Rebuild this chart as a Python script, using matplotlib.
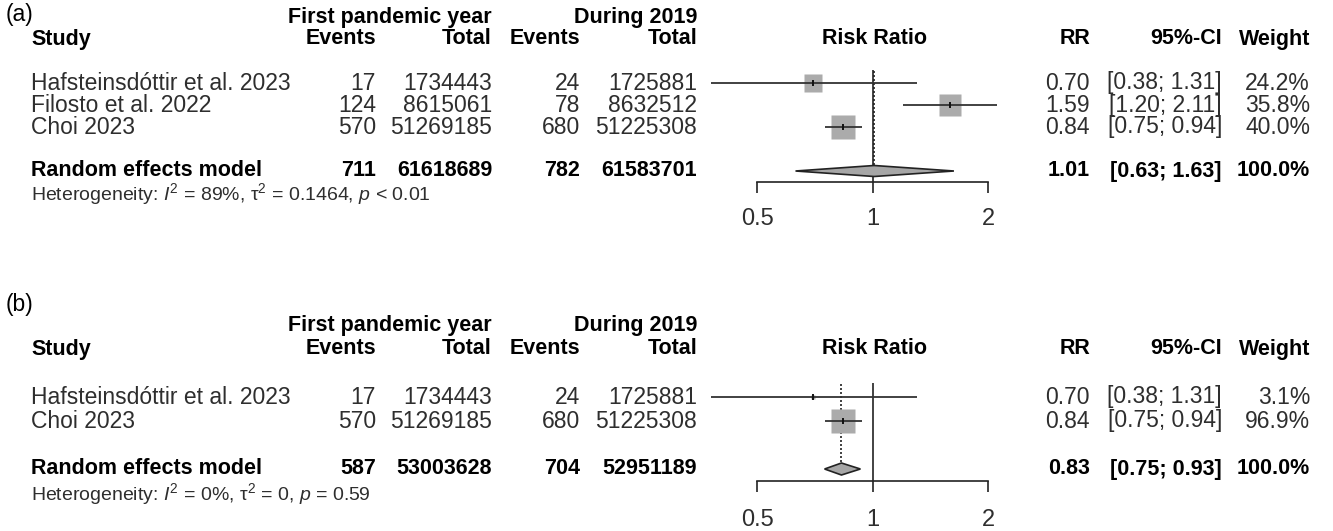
import numpy as np
import matplotlib
matplotlib.use("Agg")
import matplotlib.pyplot as plt
from matplotlib.ticker import NullLocator, FixedLocator, FixedFormatter
from matplotlib.patches import Polygon

plt.rcParams["font.family"] = ["Liberation Sans", "DejaVu Sans"]
plt.rcParams["mathtext.fontset"] = "custom"
plt.rcParams["mathtext.rm"] = "Liberation Sans"
plt.rcParams["mathtext.it"] = "Liberation Sans:italic"
plt.rcParams["mathtext.bf"] = "Liberation Sans:bold"

# ---------------- data ----------------
# Panel (a): all three studies
studies_a = ["Hafsteinsdóttir et al. 2023", "Filosto et al. 2022", "Choi 2023"]
events_pandemic_a = [17, 124, 570]
total_pandemic_a = [1734443, 8615061, 51269185]
events_2019_a = [24, 78, 680]
total_2019_a = [1725881, 8632512, 51225308]
rr_a = [0.70, 1.59, 0.84]
ci_low_a = [0.38, 1.20, 0.75]
ci_high_a = [1.31, 2.11, 0.94]
weight_a = [24.2, 35.8, 40.0]
pooled_counts_a = [711, 61618689, 782, 61583701]
pooled_rr_a = [1.01, 0.63, 1.63]
het_a = r"Heterogeneity: $I^2$ = 89%, $\mathrm{\tau}^2$ = 0.1464, $p$ < 0.01"

# Panel (b): without Filosto et al.
studies_b = ["Hafsteinsdóttir et al. 2023", "Choi 2023"]
events_pandemic_b = [17, 570]
total_pandemic_b = [1734443, 51269185]
events_2019_b = [24, 680]
total_2019_b = [1725881, 51225308]
rr_b = [0.70, 0.84]
ci_low_b = [0.38, 0.75]
ci_high_b = [1.31, 0.94]
weight_b = [3.1, 96.9]
pooled_counts_b = [587, 53003628, 704, 52951189]
pooled_rr_b = [0.83, 0.75, 0.93]
het_b = r"Heterogeneity: $I^2$ = 0%, $\mathrm{\tau}^2$ = 0, $p$ = 0.59"

tick_values = [0.5, 1, 2]
tick_labels = ["0.5", "1", "2"]

# ---------------- layout ----------------
W, H = 1333, 531
fig = plt.figure(figsize=(W / 100, H / 100), dpi=100)
fig.patch.set_facecolor("white")

FS = 16.5        # regular table text
FS_B = 15.5      # bold headers and pooled row
FS_HET = 14
FS_TICK = 17
TXT = "#2e2e2e"
SQ = "#ababab"
LINE = "#333333"

X_STUDY = 31
X_EV1, X_TOT1, X_EV2, X_TOT2 = 376, 492, 580, 697
X_RR, X_CI, X_W = 1090, 1222, 1310
X_AX0, X_AX1 = 757, 988


def fx(x):
    return x / W


def fy(y):
    return 1 - y / H


def put(x, y, s, ha="left", bold=False, size=None, color=None):
    if size is None:
        size = FS_B if bold else FS
    fig.text(fx(x), fy(y), s, ha=ha, va="center", fontsize=size,
             fontweight="bold" if bold else "normal",
             color=color if color else ("black" if bold else TXT))


def panel(tag, y_tag, y_h1, y0, d, studies, ev1, tot1, ev2, tot2,
          rr, lo, hi, wt, pooled_counts, pooled, het):
    n = len(studies)
    row_y = lambda r: y0 + r * d
    # headers
    put(6, y_tag, tag, size=FS, color="black")
    put(X_TOT1, y_h1, "First pandemic year", ha="right", bold=True)
    put(X_TOT2, y_h1, "During 2019", ha="right", bold=True)
    yh = row_y(-2)
    put(X_STUDY, yh, "Study", bold=True)
    put(X_EV1, yh, "Events", ha="right", bold=True)
    put(X_TOT1, yh, "Total", ha="right", bold=True)
    put(X_EV2, yh, "Events", ha="right", bold=True)
    put(X_TOT2, yh, "Total", ha="right", bold=True)
    put((X_AX0 + X_AX1) / 2 + 2, yh, "Risk Ratio", ha="center", bold=True)
    put(X_RR, yh, "RR", ha="right", bold=True)
    put(X_CI, yh, "95%-CI", ha="right", bold=True)
    put(X_W, yh, "Weight", ha="right", bold=True)
    # study rows
    for i in range(n):
        y = row_y(i)
        put(X_STUDY, y, studies[i])
        put(X_EV1, y, f"{ev1[i]}", ha="right")
        put(X_TOT1, y, f"{tot1[i]}", ha="right")
        put(X_EV2, y, f"{ev2[i]}", ha="right")
        put(X_TOT2, y, f"{tot2[i]}", ha="right")
        put(X_RR, y, f"{rr[i]:.2f}", ha="right")
        put(X_CI, y, f"[{lo[i]:.2f}; {hi[i]:.2f}]", ha="right")
        put(X_W, y, f"{wt[i]:.1f}%", ha="right")
    # pooled row
    yp = row_y(n + 1)
    put(X_STUDY, yp, "Random effects model", bold=True)
    put(X_EV1, yp, f"{pooled_counts[0]}", ha="right", bold=True)
    put(X_TOT1, yp, f"{pooled_counts[1]}", ha="right", bold=True)
    put(X_EV2, yp, f"{pooled_counts[2]}", ha="right", bold=True)
    put(X_TOT2, yp, f"{pooled_counts[3]}", ha="right", bold=True)
    put(X_RR, yp, f"{pooled[0]:.2f}", ha="right", bold=True)
    put(X_CI, yp, f"[{pooled[1]:.2f}; {pooled[2]:.2f}]", ha="right", bold=True)
    put(X_W, yp, "100.0%", ha="right", bold=True)
    put(X_STUDY, row_y(n + 2) + 1, het, size=FS_HET)

    # forest axes: x is the risk ratio on a log scale, y is the row index
    top_r, bot_r = -1.0, n + 4.5
    ax = fig.add_axes([fx(X_AX0), fy(row_y(bot_r)), (X_AX1 - X_AX0) / W,
                       (bot_r - top_r) * d / H])
    ax.set_xscale("log", base=2)
    ax.set_xlim(tick_values[0], tick_values[-1])
    ax.set_ylim(bot_r, top_r)
    ax.patch.set_alpha(0)
    for s in ("top", "left", "right"):
        ax.spines[s].set_visible(False)
    ax.spines["bottom"].set_position(("data", n + 1.5))
    ax.spines["bottom"].set_linewidth(1.2)
    ax.spines["bottom"].set_color("#222222")
    ax.yaxis.set_visible(False)
    ax.xaxis.set_major_locator(FixedLocator(tick_values))
    ax.xaxis.set_major_formatter(FixedFormatter(tick_labels))
    ax.xaxis.set_minor_locator(NullLocator())
    ax.tick_params(axis="x", direction="out", length=8, width=1.2,
                   color="#222222", labelsize=FS_TICK, labelcolor=TXT,
                   pad=0.5 * d)

    # reference line at no effect and dotted line at the pooled estimate
    ax.plot([1, 1], [-0.6, n + 1.5], color="#222222", lw=1.2,
            solid_capstyle="butt", zorder=2)
    dh = 0.25
    ax.plot([pooled[0], pooled[0]], [-0.55, n + 1 - dh], color="#222222",
            lw=1.2, ls=(0, (1.2, 1.2)), zorder=2)

    # study squares and confidence intervals
    wmax = max(wt)
    for i in range(n):
        size_px = 23.5 * np.sqrt(wt[i] / wmax)
        ax.plot([rr[i]], [i], marker="s", ms=size_px * 0.72, mfc=SQ,
                mec="none", zorder=3, clip_on=False)
        ax.plot([lo[i], hi[i]], [i, i], color=LINE, lw=1.3, zorder=4,
                clip_on=False, solid_capstyle="butt")
        ax.plot([rr[i]], [i], marker="|", ms=5, mew=1.4, color="#111111",
                zorder=5, clip_on=False)

    # pooled diamond
    est, plo, phi = pooled
    r = n + 1
    diamond = Polygon([(plo, r), (est, r - dh), (phi, r), (est, r + dh)],
                      closed=True, facecolor="#a6a6a6", edgecolor="#222222",
                      lw=1.2, zorder=4, clip_on=False)
    ax.add_patch(diamond)
    return ax


panel("(a)", 14, 18, 83, 22, studies_a, events_pandemic_a, total_pandemic_a,
      events_2019_a, total_2019_a, rr_a, ci_low_a, ci_high_a, weight_a,
      pooled_counts_a, pooled_rr_a, het_a)
panel("(b)", 305, 325, 397, 24, studies_b, events_pandemic_b, total_pandemic_b,
      events_2019_b, total_2019_b, rr_b, ci_low_b, ci_high_b, weight_b,
      pooled_counts_b, pooled_rr_b, het_b)

fig.savefig("out.png", dpi=100, facecolor="white")
